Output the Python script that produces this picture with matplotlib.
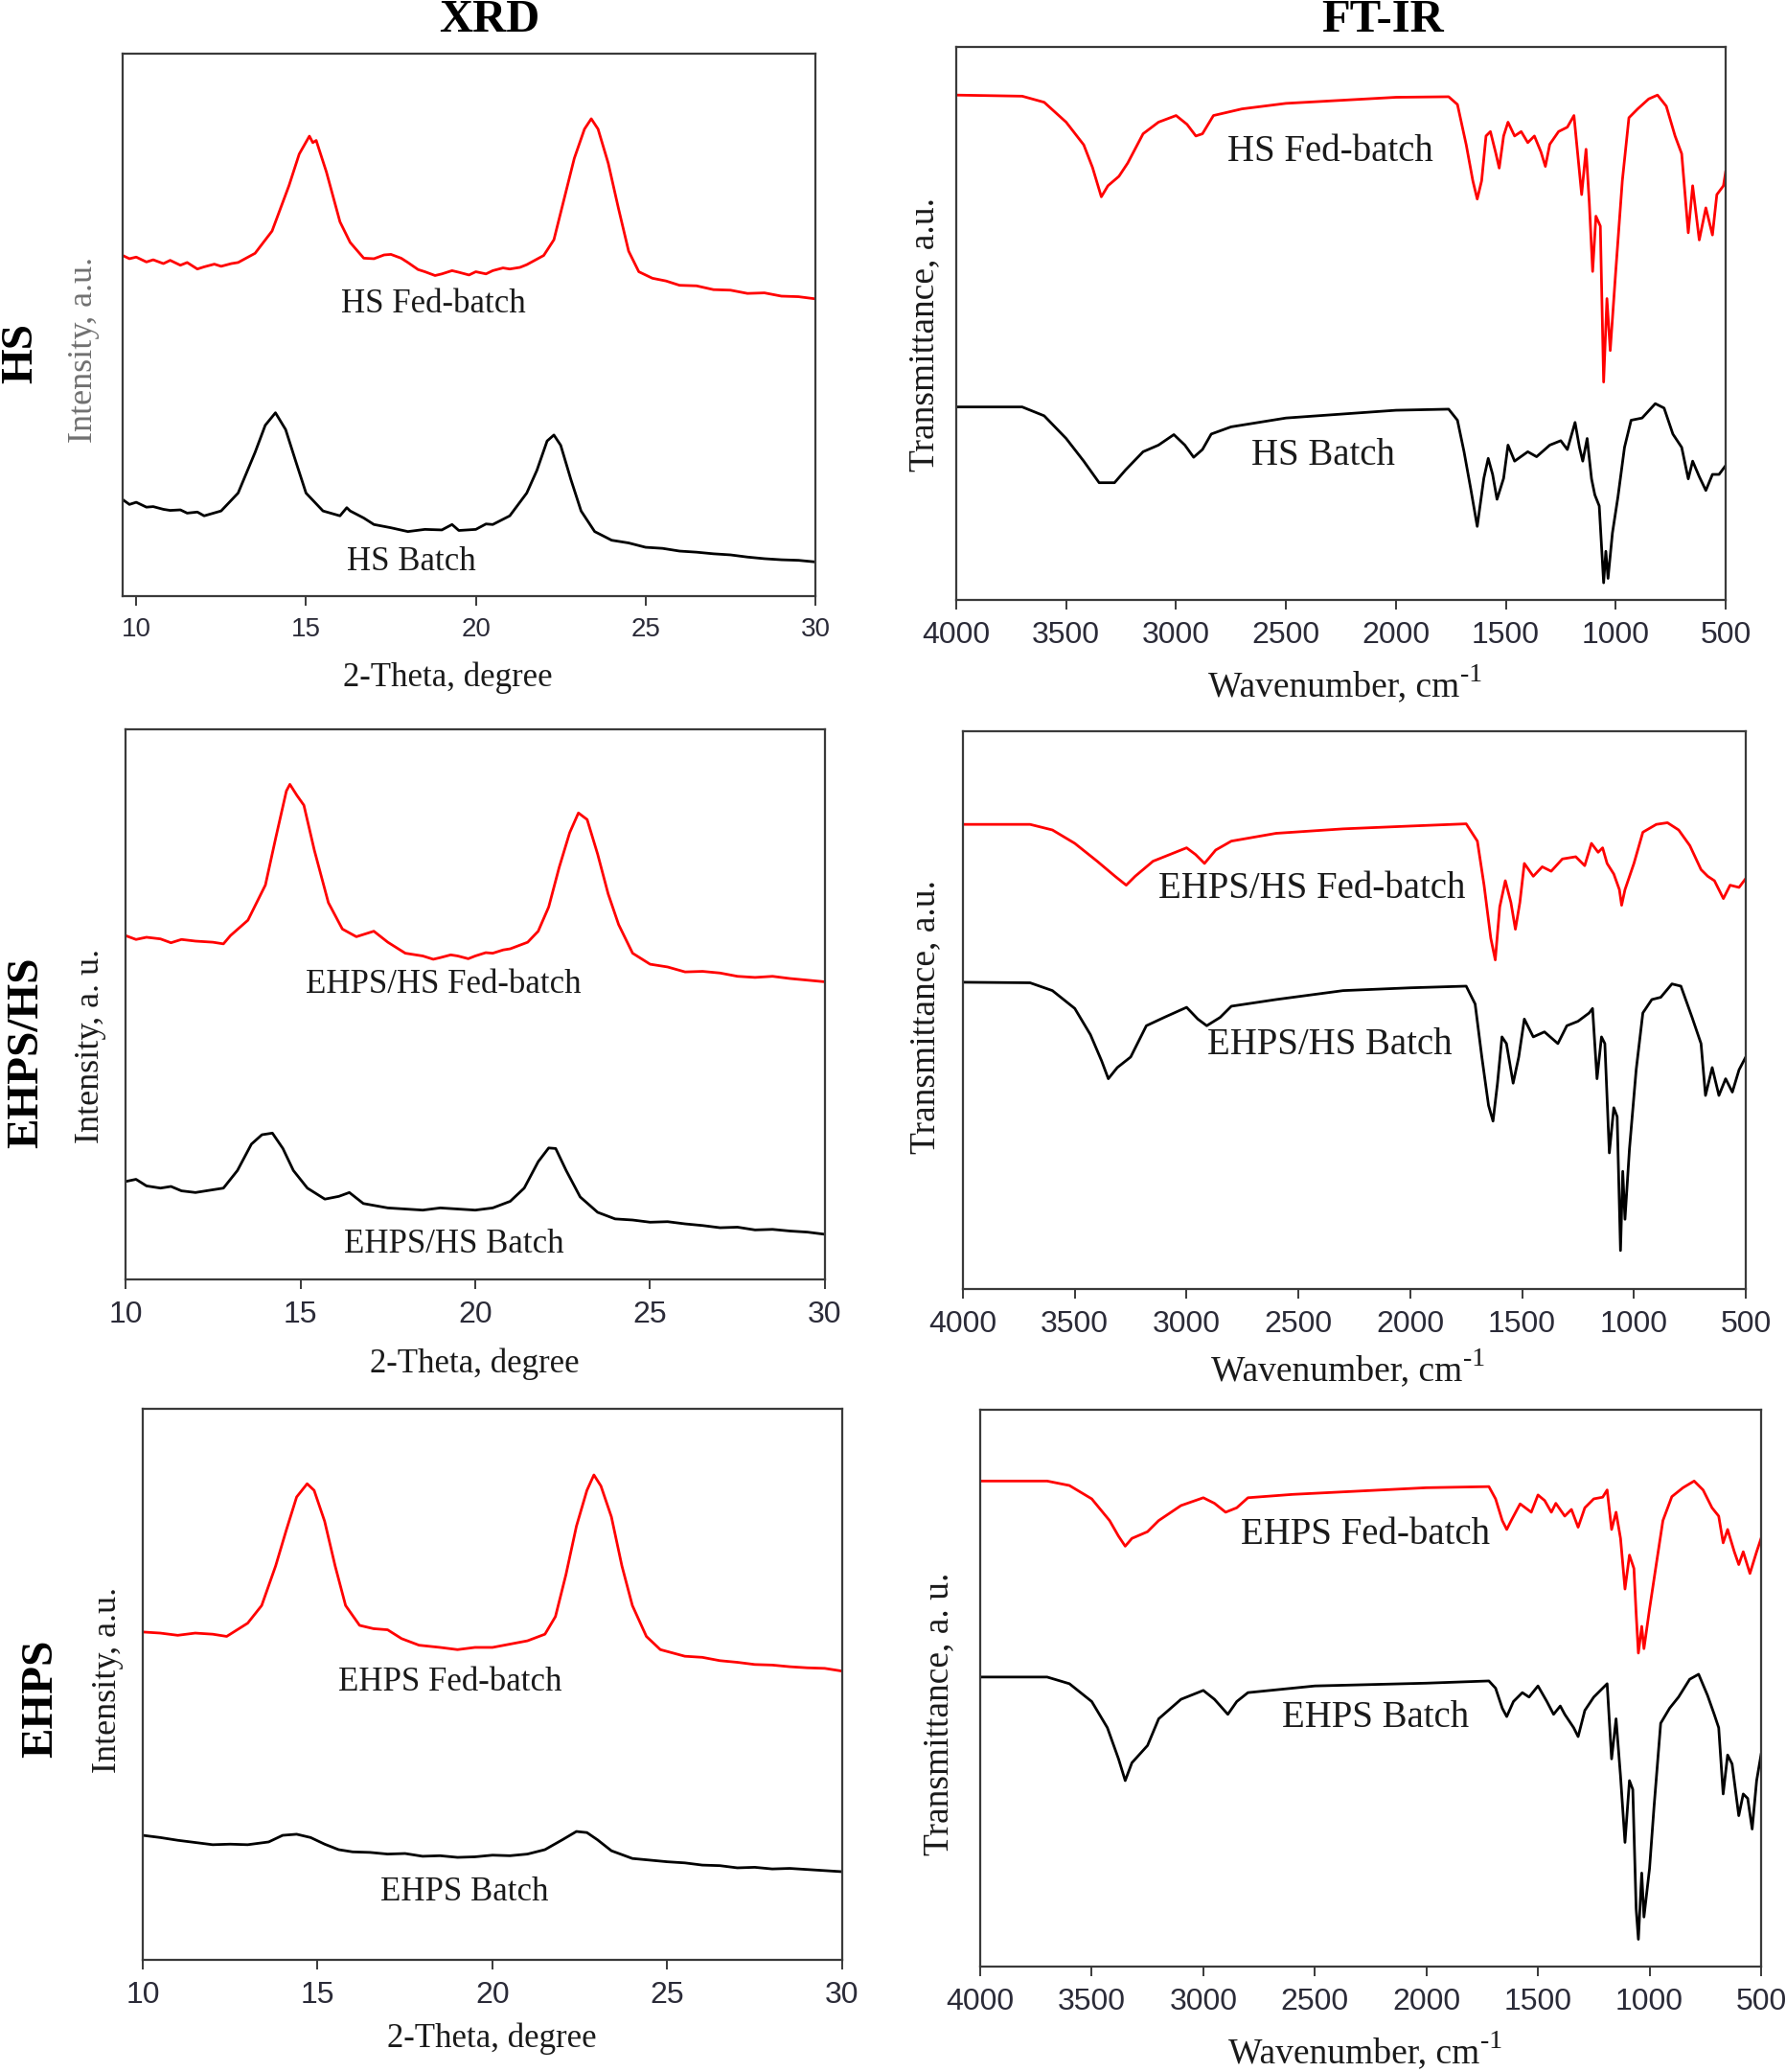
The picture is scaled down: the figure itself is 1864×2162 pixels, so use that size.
import matplotlib
matplotlib.use("Agg")
import matplotlib.pyplot as plt

# ---------------- DATA ----------------
# XRD row 1 (HS)
hs_xrd_fed_x = [9.6, 9.8, 10, 10.3, 10.5, 10.8, 11, 11.3, 11.5, 11.8, 12, 12.3, 12.5, 12.8, 13, 13.5, 14, 14.5, 14.8,
                15.1, 15.2, 15.3, 15.6, 16, 16.3, 16.7, 17, 17.3, 17.5, 17.8, 18, 18.3, 18.5, 18.8, 19, 19.3, 19.5,
                19.8, 20, 20.3, 20.5, 20.8, 21, 21.3, 21.5, 22, 22.3, 22.6, 22.9, 23.2, 23.4, 23.6, 23.9, 24.2, 24.5,
                24.8, 25.2, 25.6, 26, 26.5, 27, 27.5, 28, 28.5, 29, 29.5, 30]
hs_xrd_fed_y = [62.8, 62.2, 62.5, 61.6, 62.0, 61.3, 61.9, 61.0, 61.5, 60.3, 60.7, 61.2, 60.8, 61.3, 61.5, 63.2, 67.3,
                75.7, 81.5, 84.8, 83.6, 84.0, 78.2, 69.0, 65.2, 62.3, 62.2, 62.9, 63.0, 62.3, 61.5, 60.2, 59.8, 59.1,
                59.4, 60.0, 59.7, 59.2, 59.8, 59.4, 60.0, 60.5, 60.3, 60.6, 61.1, 62.8, 65.7, 73.2, 80.7, 86.1, 88.0,
                86.1, 79.8, 71.5, 63.6, 59.8, 58.6, 58.1, 57.3, 57.2, 56.5, 56.4, 55.8, 55.9, 55.3, 55.2, 54.8]
hs_xrd_bat_x = [9.6, 9.8, 10, 10.3, 10.5, 10.8, 11, 11.3, 11.5, 11.8, 12, 12.5, 13, 13.5, 13.8, 14.1, 14.4, 14.7, 15,
                15.5, 16, 16.2, 16.3, 16.7, 17, 17.5, 18, 18.5, 19, 19.3, 19.5, 20, 20.3, 20.5, 21, 21.5, 21.8, 22.1,
                22.3, 22.5, 22.8, 23.1, 23.5, 24, 24.5, 25, 25.5, 26, 26.5, 27, 27.5, 28, 28.5, 29, 29.5, 30]
hs_xrd_bat_y = [17.8, 16.9, 17.3, 16.4, 16.5, 16.0, 15.8, 15.9, 15.3, 15.5, 14.8, 15.7, 19.0, 26.5, 31.5, 33.8, 30.7,
                24.8, 19.0, 15.7, 14.8, 16.3, 15.7, 14.4, 13.2, 12.6, 11.9, 12.3, 12.2, 13.2, 12.1, 12.3, 13.3, 13.2,
                14.8, 19.0, 23.2, 28.6, 29.7, 27.8, 21.5, 15.7, 11.9, 10.3, 9.8, 9.0, 8.8, 8.3, 8.1, 7.8, 7.6, 7.2,
                6.9, 6.7, 6.6, 6.3]

# XRD row 2 (EHPS/HS)
mix_xrd_fed_x = [10, 10.3, 10.6, 11, 11.3, 11.6, 12, 12.5, 12.8, 13, 13.5, 14, 14.3, 14.6, 14.7, 14.9, 15.1, 15.4,
                 15.8, 16.2, 16.6, 17.1, 17.5, 18, 18.5, 18.8, 19, 19.3, 19.5, 19.8, 20, 20.3, 20.5, 20.8, 21, 21.5,
                 21.8, 22.1, 22.4, 22.7, 22.95, 23.2, 23.5, 23.8, 24.1, 24.5, 25, 25.5, 26, 26.5, 27, 27.5, 28, 28.5,
                 29, 29.5, 30]
mix_xrd_fed_y = [62.5, 61.8, 62.2, 61.9, 61.2, 61.8, 61.5, 61.3, 61.0, 62.5, 65.3, 71.7, 80.4, 88.8, 90.0, 88.0, 86.2,
                 78.0, 68.5, 63.7, 62.3, 63.3, 61.3, 59.3, 58.8, 58.2, 58.5, 59.0, 58.8, 58.3, 58.8, 59.4, 59.3, 59.9,
                 60.1, 61.3, 63.3, 67.7, 74.9, 81.2, 84.8, 83.6, 77.3, 70.1, 64.5, 59.3, 57.3, 56.8, 55.9, 56.0, 55.7,
                 55.1, 54.9, 55.1, 54.7, 54.4, 54.1]
mix_xrd_bat_x = [10, 10.3, 10.6, 11, 11.3, 11.6, 12, 12.4, 12.8, 13.2, 13.6, 13.9, 14.2, 14.5, 14.8, 15.2, 15.7, 16.1,
                 16.4, 16.8, 17.5, 18, 18.5, 19, 19.5, 20, 20.5, 21, 21.4, 21.8, 22.1, 22.3, 22.6, 23, 23.5, 24, 24.5,
                 25, 25.5, 26, 26.5, 27, 27.5, 28, 28.5, 29, 29.5, 30]
mix_xrd_bat_y = [17.8, 18.2, 17.0, 16.6, 16.9, 16.1, 15.8, 16.2, 16.6, 19.8, 24.6, 26.3, 26.6, 23.8, 19.8, 16.6, 14.6,
                 15.1, 15.8, 13.8, 13.0, 12.8, 12.6, 13.0, 12.8, 12.6, 13.0, 14.2, 16.6, 21.4, 23.9, 23.8, 19.8, 15.0,
                 12.2, 11.0, 10.8, 10.4, 10.5, 10.1, 9.8, 9.4, 9.5, 9.0, 9.1, 8.8, 8.6, 8.2]

# XRD row 3 (EHPS)
eh_xrd_fed_x = [10, 10.5, 11, 11.5, 12, 12.4, 13, 13.4, 13.8, 14.1, 14.4, 14.7, 14.9, 15.2, 15.5, 15.8, 16.2, 16.6,
                17, 17.4, 17.9, 18.5, 19, 19.5, 20, 20.5, 21, 21.5, 21.8, 22.1, 22.4, 22.7, 22.9, 23.1, 23.4, 23.7,
                24, 24.4, 24.8, 25.5, 26, 26.5, 27, 27.5, 28, 28.5, 29, 29.5, 30]
eh_xrd_fed_y = [59.5, 59.3, 58.9, 59.3, 59.1, 58.7, 61.1, 64.3, 71.5, 77.9, 84.0, 86.4, 85.2, 79.6, 71.5, 64.3, 60.7,
                60.1, 59.9, 58.3, 57.1, 56.7, 56.3, 56.7, 56.7, 57.3, 57.9, 59.1, 62.3, 69.9, 78.7, 85.2, 88.0, 86.0,
                80.4, 71.5, 64.3, 58.7, 56.3, 55.1, 54.9, 54.3, 54.0, 53.6, 53.5, 53.2, 53.0, 52.9, 52.4]
eh_xrd_bat_x = [10, 10.5, 11, 11.5, 12, 12.5, 13, 13.6, 14, 14.4, 14.8, 15.2, 15.6, 16, 16.5, 17, 17.5, 18, 18.5, 19,
                19.5, 20, 20.5, 21, 21.5, 22, 22.4, 22.7, 23, 23.4, 24, 24.5, 25, 25.5, 26, 26.5, 27, 27.5, 28, 28.5,
                29, 29.5, 30]
eh_xrd_bat_y = [22.6, 22.2, 21.7, 21.3, 20.9, 21.0, 20.9, 21.4, 22.6, 22.8, 22.2, 21.0, 20.0, 19.6, 19.5, 19.2, 19.3,
                18.8, 18.9, 18.6, 18.7, 19.0, 18.9, 19.2, 20.0, 21.8, 23.3, 23.1, 21.8, 19.8, 18.4, 18.1, 17.8, 17.6,
                17.2, 17.1, 16.7, 16.8, 16.5, 16.6, 16.4, 16.2, 16.0]

# FT-IR row 1 (HS)
hs_ir_fed_x = [4000, 3700, 3600, 3500, 3420, 3380, 3340, 3310, 3260, 3220, 3150, 3080, 3000, 2950, 2910, 2880, 2830,
               2700, 2500, 2000, 1760, 1720, 1680, 1650, 1630, 1610, 1590, 1570, 1545, 1530, 1510, 1490, 1460, 1430,
               1400, 1370, 1340, 1320, 1300, 1260, 1220, 1190, 1175, 1155, 1135, 1120, 1105, 1090, 1070, 1055, 1040,
               1025, 1000, 970, 940, 900, 850, 810, 770, 730, 700, 670, 650, 620, 590, 560, 540, 510, 500]
hs_ir_fed_y = [91.3, 91.1, 90.0, 86.4, 82.3, 78.2, 72.9, 74.9, 76.6, 79.0, 84.3, 86.4, 87.6, 86.0, 83.9, 84.3, 87.6,
               88.8, 89.8, 90.9, 91.0, 89.6, 82.3, 75.8, 72.5, 75.8, 83.9, 84.7, 80.7, 78.1, 83.9, 86.4, 83.9, 84.7,
               82.7, 83.9, 81.0, 78.4, 82.4, 84.7, 85.5, 87.6, 81.5, 73.3, 81.5, 71.7, 59.4, 69.4, 67.6, 39.4, 54.5,
               45.1, 59.4, 75.8, 87.2, 88.8, 90.6, 91.3, 89.3, 83.9, 80.7, 66.4, 74.9, 65.1, 70.9, 66.0, 73.3, 74.9,
               77.4]
hs_ir_bat_x = [4000, 3700, 3600, 3500, 3420, 3350, 3280, 3230, 3150, 3080, 3010, 2960, 2920, 2880, 2840, 2750, 2500,
               2000, 1760, 1720, 1690, 1660, 1630, 1600, 1580, 1560, 1540, 1510, 1490, 1460, 1400, 1360, 1300, 1250,
               1220, 1185, 1165, 1150, 1130, 1110, 1095, 1075, 1055, 1045, 1035, 1015, 990, 960, 930, 880, 820, 780,
               740, 700, 670, 650, 620, 590, 560, 530, 500]
hs_ir_bat_y = [34.9, 34.9, 33.3, 29.2, 25.1, 21.2, 21.2, 23.5, 26.8, 28.0, 29.9, 28.0, 25.8, 27.2, 30.0, 31.3, 32.9,
               34.3, 34.5, 32.5, 26.8, 20.2, 13.3, 22.0, 25.6, 22.7, 18.2, 22.0, 28.0, 25.1, 26.8, 25.9, 28.0, 28.8,
               27.2, 32.1, 27.6, 25.1, 29.2, 21.9, 19.0, 17.0, 3.1, 8.8, 3.9, 12.1, 18.6, 27.6, 32.5, 32.9, 35.5, 34.7,
               30.0, 27.6, 21.9, 25.1, 22.3, 19.8, 22.7, 22.7, 24.3]

# FT-IR row 2 (EHPS/HS)
mix_ir_fed_x = [4000, 3700, 3600, 3500, 3400, 3320, 3270, 3230, 3150, 3050, 3000, 2960, 2920, 2870, 2800, 2600, 2300,
                2000, 1750, 1700, 1670, 1640, 1620, 1600, 1575, 1550, 1530, 1510, 1490, 1450, 1410, 1370, 1320, 1260,
                1220, 1190, 1160, 1140, 1120, 1090, 1065, 1055, 1040, 1000, 960, 900, 850, 800, 750, 700, 670, 640,
                600, 570, 530, 500]
mix_ir_fed_y = [83.3, 83.3, 82.3, 79.9, 76.7, 74.0, 72.4, 74.0, 76.7, 78.3, 79.1, 77.9, 76.3, 78.7, 80.3, 81.7, 82.5,
                83.0, 83.4, 80.3, 72.4, 62.9, 59.0, 68.5, 73.2, 69.3, 64.5, 69.3, 76.3, 74.0, 75.7, 74.9, 77.1, 77.5,
                75.9, 79.9, 78.3, 79.1, 76.3, 74.4, 71.6, 68.8, 71.6, 76.3, 81.9, 83.3, 83.6, 82.3, 79.5, 75.2, 74.0,
                73.2, 70.0, 72.4, 72.0, 73.6]
mix_ir_bat_x = [4000, 3700, 3600, 3500, 3430, 3380, 3350, 3310, 3250, 3180, 3100, 3000, 2950, 2910, 2850, 2800, 2600,
                2300, 2000, 1750, 1710, 1680, 1650, 1630, 1610, 1590, 1570, 1540, 1515, 1490, 1450, 1400, 1340, 1300,
                1250, 1200, 1185, 1165, 1145, 1130, 1110, 1090, 1075, 1060, 1050, 1040, 1020, 990, 960, 920, 880, 830,
                790, 740, 700, 680, 650, 620, 590, 560, 530, 500]
mix_ir_bat_y = [55.0, 54.9, 53.5, 50.3, 45.6, 40.9, 37.7, 39.7, 41.6, 47.2, 48.7, 50.5, 48.4, 47.2, 48.7, 50.7, 51.9,
                53.5, 54.0, 54.3, 51.1, 41.6, 32.9, 30.1, 36.9, 45.2, 44.0, 36.9, 41.6, 48.4, 45.2, 46.1, 44.0, 47.2,
                48.0, 49.5, 50.3, 37.7, 45.2, 44.0, 24.4, 32.5, 30.9, 6.9, 21.1, 12.5, 25.1, 39.3, 49.5, 51.9, 52.3,
                54.7, 54.3, 48.7, 44.0, 34.7, 39.7, 34.7, 37.7, 35.3, 39.3, 41.6]

# FT-IR row 3 (EHPS)
eh_ir_fed_x = [4000, 3700, 3600, 3500, 3420, 3380, 3350, 3320, 3250, 3200, 3100, 3000, 2950, 2900, 2850, 2800, 2600,
               2300, 2000, 1720, 1690, 1660, 1640, 1620, 1580, 1530, 1500, 1470, 1440, 1420, 1380, 1350, 1320, 1290,
               1250, 1210, 1190, 1170, 1150, 1130, 1110, 1090, 1070, 1060, 1050, 1035, 1025, 1000, 970, 940, 900,
               850, 800, 760, 720, 690, 670, 650, 620, 600, 580, 550, 520, 500]
eh_ir_fed_y = [87.2, 87.2, 86.4, 84.0, 80.1, 77.3, 75.5, 76.9, 78.1, 80.1, 82.8, 84.2, 83.2, 81.6, 82.4, 84.2, 84.8,
               85.4, 86.0, 86.2, 84.0, 80.1, 78.5, 80.1, 83.1, 81.6, 84.7, 83.7, 81.6, 83.2, 80.9, 82.1, 78.9, 82.4,
               84.0, 84.3, 85.6, 78.5, 81.6, 76.9, 67.8, 73.9, 71.5, 63.4, 56.3, 61.1, 57.1, 64.2, 72.2, 80.1, 84.4,
               86.0, 87.2, 85.6, 82.4, 80.9, 76.1, 78.5, 74.5, 72.2, 74.5, 70.6, 74.5, 76.9]
eh_ir_bat_x = [4000, 3700, 3600, 3500, 3430, 3380, 3350, 3320, 3250, 3200, 3100, 3000, 2950, 2890, 2850, 2800, 2500,
               2000, 1720, 1690, 1660, 1640, 1610, 1570, 1540, 1500, 1460, 1430, 1400, 1380, 1340, 1320, 1290, 1250,
               1210, 1190, 1170, 1150, 1130, 1110, 1090, 1075, 1060, 1050, 1035, 1025, 1000, 980, 950, 910, 870, 820,
               780, 740, 710, 690, 670, 650, 630, 600, 580, 560, 540, 520, 500]
eh_ir_bat_y = [52.0, 52.0, 50.8, 47.6, 42.9, 37.3, 33.4, 36.6, 39.7, 44.5, 48.0, 49.6, 48.0, 45.3, 47.6, 49.2, 50.4,
               50.9, 51.3, 50.0, 46.4, 44.9, 47.6, 49.2, 48.4, 50.4, 47.6, 45.3, 46.8, 45.3, 42.9, 41.3, 46.0, 48.4,
               50.0, 50.8, 37.3, 44.5, 34.2, 22.3, 33.4, 31.8, 10.4, 4.9, 16.8, 8.9, 17.6, 28.6, 43.7, 46.4, 48.4,
               51.6, 52.5, 48.7, 45.3, 42.9, 31.0, 38.0, 36.4, 27.1, 31.0, 30.2, 24.7, 33.4, 38.1]

row_names = ["HS", "EHPS/HS", "EHPS"]
col_titles = ["XRD", "FT-IR"]
xrd_ticks = [10, 15, 20, 25, 30]
ir_ticks = [4000, 3500, 3000, 2500, 2000, 1500, 1000, 500]
xrd_labels = [("HS Fed-batch", "HS Batch"), ("EHPS/HS Fed-batch", "EHPS/HS Batch"), ("EHPS Fed-batch", "EHPS Batch")]
ir_labels = xrd_labels
xrd_ylabels = ["Intensity, a.u.", "Intensity, a. u.", "Intensity, a.u."]
ir_ylabels = ["Transmittance, a.u.", "Transmittance, a.u.", "Transmittance, a. u."]
xrd_xlabel = "2-Theta, degree"
ir_xlabel = "Wavenumber, cm"
ir_xlabel_sup = "-1"

xrd_data = [(hs_xrd_fed_x, hs_xrd_fed_y, hs_xrd_bat_x, hs_xrd_bat_y),
            (mix_xrd_fed_x, mix_xrd_fed_y, mix_xrd_bat_x, mix_xrd_bat_y),
            (eh_xrd_fed_x, eh_xrd_fed_y, eh_xrd_bat_x, eh_xrd_bat_y)]
ir_data = [(hs_ir_fed_x, hs_ir_fed_y, hs_ir_bat_x, hs_ir_bat_y),
           (mix_ir_fed_x, mix_ir_fed_y, mix_ir_bat_x, mix_ir_bat_y),
           (eh_ir_fed_x, eh_ir_fed_y, eh_ir_bat_x, eh_ir_bat_y)]

# ---------------- LAYOUT (pixels) ----------------
W, H = 1865, 2162
SERIF = "Liberation Serif"
SANS = "Liberation Sans"

fig = plt.figure(figsize=(W / 100, H / 100), dpi=100)

def box(l, r, t, b):
    return [l / W, 1 - b / H, (r - l) / W, (b - t) / H]

xrd_boxes = [box(128, 851, 56, 622), box(131, 861, 761, 1335), box(149, 879, 1470, 2045)]
ir_boxes = [box(998, 1801, 49, 626), box(1005, 1822, 763, 1345), box(1023, 1838, 1471, 2052)]
xrd_xlim = [(9.6, 30), (10, 30), (10, 30)]
xrd_tick_fs = [20, 23, 23]
xrd_label_pos = [((18.75, 53.8), (18.1, 6.3)), ((19.1, 53.5), (19.4, 6.4)), ((18.8, 50.3), (19.2, 12.2))]
ir_label_pos = [((2300, 81.0), (2330, 26.0)), ((2440, 71.8), (2360, 43.8)), ((2275, 77.5), (2230, 44.6))]
xrd_ylab_xy = [(88, 365), (95, 1091), (113, 1753)]
ir_ylab_xy = [(965, 349), (966, 1061), (980, 1788)]
xrd_xlab_xy = [(467, 707), (495, 1423), (513, 2127)]
ir_xlab_xy = [(1392, 717), (1395, 1431), (1413, 2143)]
row_lab_xy = [(22, 368), (28, 1098), (43, 1772)]
xrd_ylab_color = ["#707070", "#1a1a1a", "#1a1a1a"]

def fx(px):
    return px / W

def fy(py):
    return 1 - py / H

def style(ax, ticks, fs):
    for s in ax.spines.values():
        s.set_color("#3a3a3a")
        s.set_linewidth(1.6)
    ax.set_yticks([])
    ax.set_xticks(ticks)
    ax.tick_params(axis='x', direction='out', length=7, width=1.4, color="#3a3a3a",
                   labelsize=fs, labelcolor="#2b2b38", pad=9)
    for lab in ax.get_xticklabels():
        lab.set_fontfamily(SANS)

ir_xlabel_objs = []
for i in range(3):
    # XRD
    ax = fig.add_axes(xrd_boxes[i])
    fx_, fy_, bx_, by_ = xrd_data[i]
    ax.plot(fx_, fy_, color="#ff0000", lw=2.0)
    ax.plot(bx_, by_, color="black", lw=2.0)
    ax.set_xlim(*xrd_xlim[i])
    ax.set_ylim(0, 100)
    style(ax, xrd_ticks, xrd_tick_fs[i])
    (p1, p2) = xrd_label_pos[i]
    ax.text(p1[0], p1[1], xrd_labels[i][0], ha='center', va='center', fontsize=25, family=SERIF, color="#1a1a1a")
    ax.text(p2[0], p2[1], xrd_labels[i][1], ha='center', va='center', fontsize=25, family=SERIF, color="#1a1a1a")
    ax.set_xlabel(xrd_xlabel, fontsize=25, family=SERIF, color="#1a1a1a", va='center')
    ax.xaxis.set_label_coords(fx(xrd_xlab_xy[i][0]), fy(xrd_xlab_xy[i][1]), transform=fig.transFigure)
    ax.set_ylabel(xrd_ylabels[i], fontsize=26, family=SERIF, color=xrd_ylab_color[i], va='center')
    ax.yaxis.set_label_coords(fx(xrd_ylab_xy[i][0]), fy(xrd_ylab_xy[i][1]), transform=fig.transFigure)

    # FT-IR
    ax2 = fig.add_axes(ir_boxes[i])
    fx_, fy_, bx_, by_ = ir_data[i]
    ax2.plot(fx_, fy_, color="#ff0000", lw=2.0)
    ax2.plot(bx_, by_, color="black", lw=2.0)
    ax2.set_xlim(4000, 500)
    ax2.set_ylim(0, 100)
    style(ax2, ir_ticks, 23)
    (p1, p2) = ir_label_pos[i]
    ax2.text(p1[0], p1[1], ir_labels[i][0], ha='center', va='center', fontsize=28, family=SERIF, color="#1a1a1a")
    ax2.text(p2[0], p2[1], ir_labels[i][1], ha='center', va='center', fontsize=28, family=SERIF, color="#1a1a1a")
    lab = ax2.set_xlabel(ir_xlabel, fontsize=27, family=SERIF, color="#1a1a1a", va='center')
    ax2.xaxis.set_label_coords(fx(ir_xlab_xy[i][0]), fy(ir_xlab_xy[i][1]), transform=fig.transFigure)
    ir_xlabel_objs.append(lab)
    ax2.set_ylabel(ir_ylabels[i], fontsize=27, family=SERIF, color="#1a1a1a", va='center')
    ax2.yaxis.set_label_coords(fx(ir_ylab_xy[i][0]), fy(ir_ylab_xy[i][1]), transform=fig.transFigure)

    # row label
    fig.text(fx(row_lab_xy[i][0]), fy(row_lab_xy[i][1]), row_names[i], rotation=90, ha='center', va='center',
             fontsize=34, fontweight='bold', family=SERIF, color="black")

fig.text(fx(511), fy(21), col_titles[0], ha='center', va='center', fontsize=35, fontweight='bold', family=SERIF)
fig.text(fx(1443), fy(21), col_titles[1], ha='center', va='center', fontsize=35, fontweight='bold', family=SERIF)

# superscript "-1" after each wavenumber label
fig.canvas.draw()
renderer = fig.canvas.get_renderer()
for lab in ir_xlabel_objs:
    bb = lab.get_window_extent(renderer)
    baseline = bb.y0 + 8
    fig.text((bb.x1 + 1) / W, (baseline + 15) / H, ir_xlabel_sup, ha='left', va='baseline',
             fontsize=20, family=SERIF, color="#1a1a1a")

fig.savefig("out.png", dpi=100, facecolor="white")
